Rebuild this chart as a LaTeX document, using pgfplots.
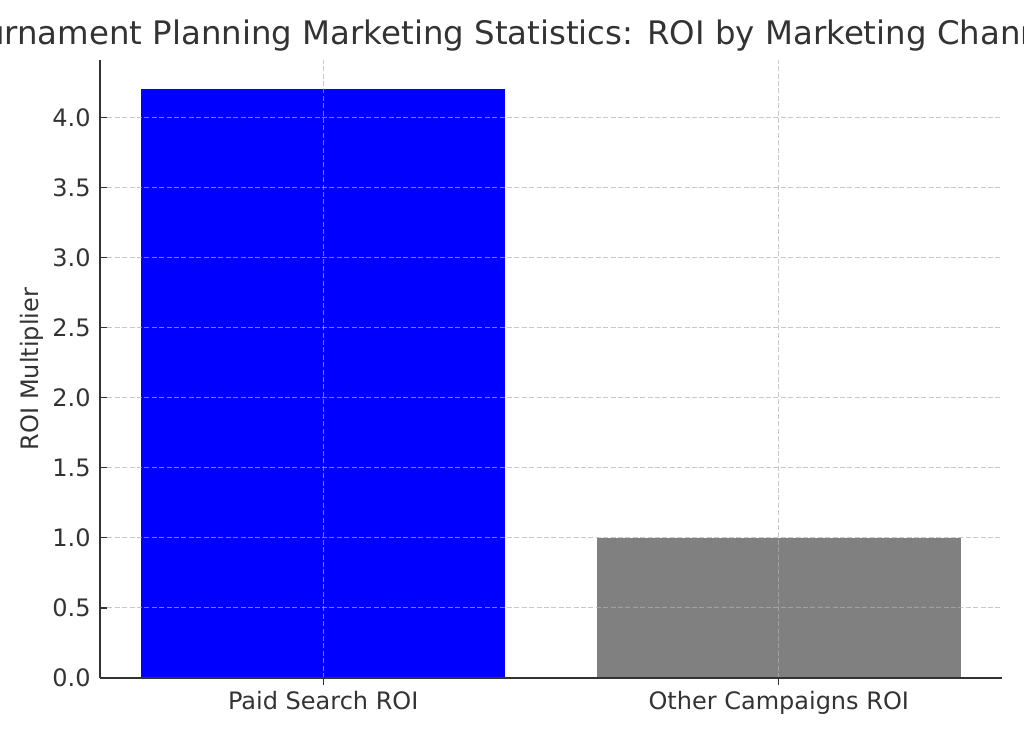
\documentclass[border=0pt]{standalone}
\usepackage{fontspec}
\setmainfont{DejaVu Sans}
\usepackage{pgfplots}
\pgfplotsset{compat=1.18}
\definecolor{txt}{HTML}{333333}
\definecolor{gridc}{HTML}{B0B0B0}
\begin{document}
\begin{tikzpicture}
\useasboundingbox (-50pt,-26.5pt) rectangle (462pt,339pt);
\clip (-50pt,-26.5pt) rectangle (462pt,339pt);
\begin{axis}[
  at={(0,0)}, anchor=south west,
  scale only axis, width=451pt, height=309pt,
  xmin=-0.49, xmax=1.49, ymin=0, ymax=4.41,
  enlargelimits=false,
  axis x line*=bottom, axis y line*=left,
  axis line style={-, color=txt, line width=0.8pt},
  axis on top,
  xtick={0,1}, xticklabels={Paid Search ROI, Other Campaigns ROI},
  ytick={0,0.5,1,1.5,2,2.5,3,3.5,4},
  yticklabels={0.0,0.5,1.0,1.5,2.0,2.5,3.0,3.5,4.0},
  tick align=inside, major tick length=3.5pt,
  tick style={color=txt, line width=0.6pt},
  grid=major,
  major grid style={color=gridc, opacity=0.7, line width=0.5pt, dash pattern=on 2.5pt off 1.2pt},
  tick label style={font=\fontsize{12}{14}\selectfont, text=txt},
  /pgf/number format/assume math mode=true,
  xticklabel style={anchor=base, yshift=-12.5pt},
  yticklabel style={anchor=east, inner sep=0pt, xshift=-4.5pt},
  ylabel={ROI Multiplier},
  ylabel style={at={(axis description cs:-0.0754,0.5)}, anchor=center, font=\fontsize{12}{14}\selectfont, text=txt},
  every axis title shift=0pt,
  title={Tournament Planning Marketing Statistics: ROI by Marketing Channel},
  title style={at={(axis description cs:0.4545,1)}, anchor=base, yshift=7.5pt, font=\fontsize{16.2}{19}\selectfont, text=txt},
  ybar, bar width=0.8, bar shift=0pt,
]
\addplot[draw=none, fill={rgb,255:red,0;green,0;blue,255}] coordinates {(0,4.2)};
\addplot[draw=none, fill={rgb,255:red,128;green,128;blue,128}] coordinates {(1,1.0)};
\end{axis}
\end{tikzpicture}
\end{document}
